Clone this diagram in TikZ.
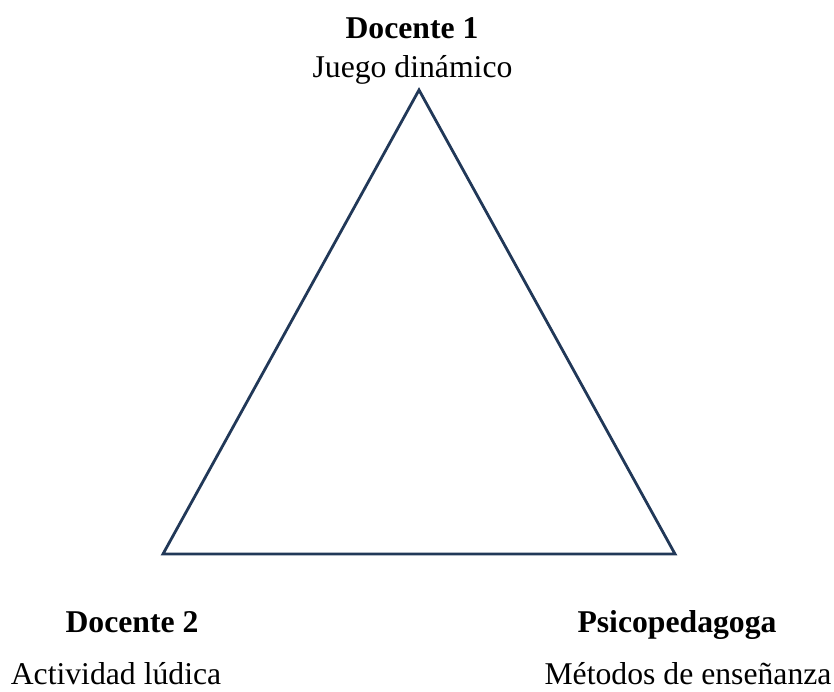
\documentclass[tikz,border=0pt]{standalone}
\usepackage{fontspec}
\setmainfont{Liberation Serif}
\definecolor{tri}{RGB}{33,56,88}
\begin{document}
\begin{tikzpicture}[x=1pt,y=1pt,
  lbl/.style={anchor=base,inner sep=0pt,font=\fontsize{31.7}{36}\selectfont},
  head/.style={lbl,font=\fontsize{31.7}{36}\selectfont\bfseries}]
\useasboundingbox (0,0) rectangle (834,692);
\coordinate (A) at (419,602);
\coordinate (B) at (163,138);
\coordinate (C) at (675,138);
\draw[tri,line width=2.8pt,line join=miter] (A) -- (B) -- (C) -- cycle;
\node[head] (d1) at (412,653) {Docente 1};
\node[lbl] (j1) at (412.5,614) {Juego dinámico};
\node[head] (d2) at (132,59) {Docente 2};
\node[lbl] (a2) at (116,7.5) {Actividad lúdica};
\node[head] (p3) at (677,59) {Psicopedagoga};
\node[lbl] (m3) at (688,7.5) {Métodos de enseñanza};
\end{tikzpicture}
\end{document}
